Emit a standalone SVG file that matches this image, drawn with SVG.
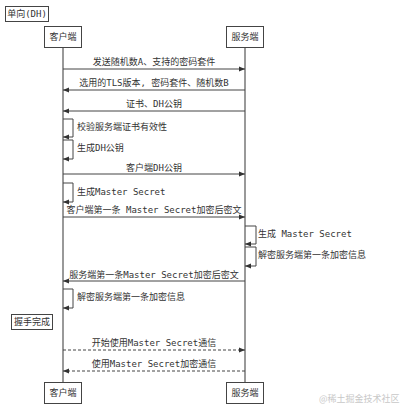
<svg xmlns="http://www.w3.org/2000/svg" width="408" height="416" viewBox="0 0 408 416">
<style>
text{font-family:"DejaVu Sans Mono","Noto Sans CJK SC",monospace;font-size:9px;fill:#333}
.c{text-anchor:middle}
.box{fill:#fff;stroke:#444;stroke-width:1}
.life{stroke:#555;stroke-width:1.2;fill:none}
.msg{stroke:#444;stroke-width:1;fill:none}
.dash{stroke-dasharray:3,2}
.wm{fill:#c8c8c8;font-family:"Noto Sans CJK SC",sans-serif}
</style>
<defs>
<marker id="ah" markerUnits="userSpaceOnUse" markerWidth="7" markerHeight="6" refX="6" refY="3" orient="auto">
<path d="M0,0.5 L6,3 L0,5.5 Z" fill="#333"/>
</marker>
</defs>
<rect width="408" height="416" fill="#fff"/>
<g id="title"><rect class="box" x="5.5" y="6.5" width="43" height="15"/><text class="c" x="27" y="17">单向(DH)</text></g>
<g id="lifelines">
<line class="life" x1="63" y1="47" x2="63" y2="382"/>
<line class="life" x1="245" y1="47" x2="245" y2="382"/>
</g>
<g id="client-top"><rect class="box" x="44.5" y="26.5" width="37" height="21"/><text class="c" x="63" y="40">客户端</text></g>
<g id="server-top"><rect class="box" x="226.5" y="26.5" width="37" height="21"/><text class="c" x="245" y="40">服务端</text></g>
<g id="client-bottom"><rect class="box" x="44.5" y="382.5" width="37" height="21"/><text class="c" x="63" y="396">客户端</text></g>
<g id="server-bottom"><rect class="box" x="226.5" y="382.5" width="37" height="21"/><text class="c" x="245" y="396">服务端</text></g>
<g id="note"><rect class="box" x="11.5" y="314.5" width="41" height="15"/><text class="c" x="32" y="325">握手完成</text></g>
<g id="connectors">
<line class="msg" x1="63" y1="69" x2="245" y2="69" marker-end="url(#ah)"/>
<line class="msg" x1="245" y1="90" x2="63" y2="90" marker-end="url(#ah)"/>
<line class="msg" x1="245" y1="111" x2="63" y2="111" marker-end="url(#ah)"/>
<polyline class="msg" points="63,119 73,119 73,137 63,137" marker-end="url(#ah)"/>
<polyline class="msg" points="63,140 73,140 73,159 63,159" marker-end="url(#ah)"/>
<line class="msg" x1="63" y1="174" x2="245" y2="174" marker-end="url(#ah)"/>
<polyline class="msg" points="63,183 73,183 73,202 63,202" marker-end="url(#ah)"/>
<line class="msg" x1="63" y1="217" x2="245" y2="217" marker-end="url(#ah)"/>
<polyline class="msg" points="245,226 256,226 256,244 245,244" marker-end="url(#ah)"/>
<polyline class="msg" points="245,247 256,247 256,266 245,266" marker-end="url(#ah)"/>
<line class="msg" x1="245" y1="281" x2="63" y2="281" marker-end="url(#ah)"/>
<polyline class="msg" points="63,289 73,289 73,308 63,308" marker-end="url(#ah)"/>
<line class="msg dash" x1="63" y1="350" x2="245" y2="350" marker-end="url(#ah)"/>
<line class="msg dash" x1="245" y1="371" x2="63" y2="371" marker-end="url(#ah)"/>
</g>
<g id="labels">
<text class="c" x="154" y="65">发送随机数A、支持的密码套件</text>
<text class="c" x="154" y="86">选用的TLS版本, 密码套件、随机数B</text>
<text class="c" x="154" y="107">证书、DH公钥</text>
<text x="77" y="130">校验服务端证书有效性</text>
<text x="77" y="151">生成DH公钥</text>
<text class="c" x="154" y="171">客户端DH公钥</text>
<text x="77" y="195">生成Master Secret</text>
<text class="c" x="154" y="213">客户端第一条 Master Secret加密后密文</text>
<text x="258" y="237">生成 Master Secret</text>
<text x="258" y="258">解密服务端第一条加密信息</text>
<text class="c" x="154" y="278">服务端第一条Master Secret加密后密文</text>
<text x="77" y="300">解密服务端第一条加密信息</text>
<text class="c" x="154" y="346">开始使用Master Secret通信</text>
<text class="c" x="154" y="367">使用Master Secret加密通信</text>
</g>
<text class="wm" x="319" y="402">@稀土掘金技术社区</text>
</svg>
